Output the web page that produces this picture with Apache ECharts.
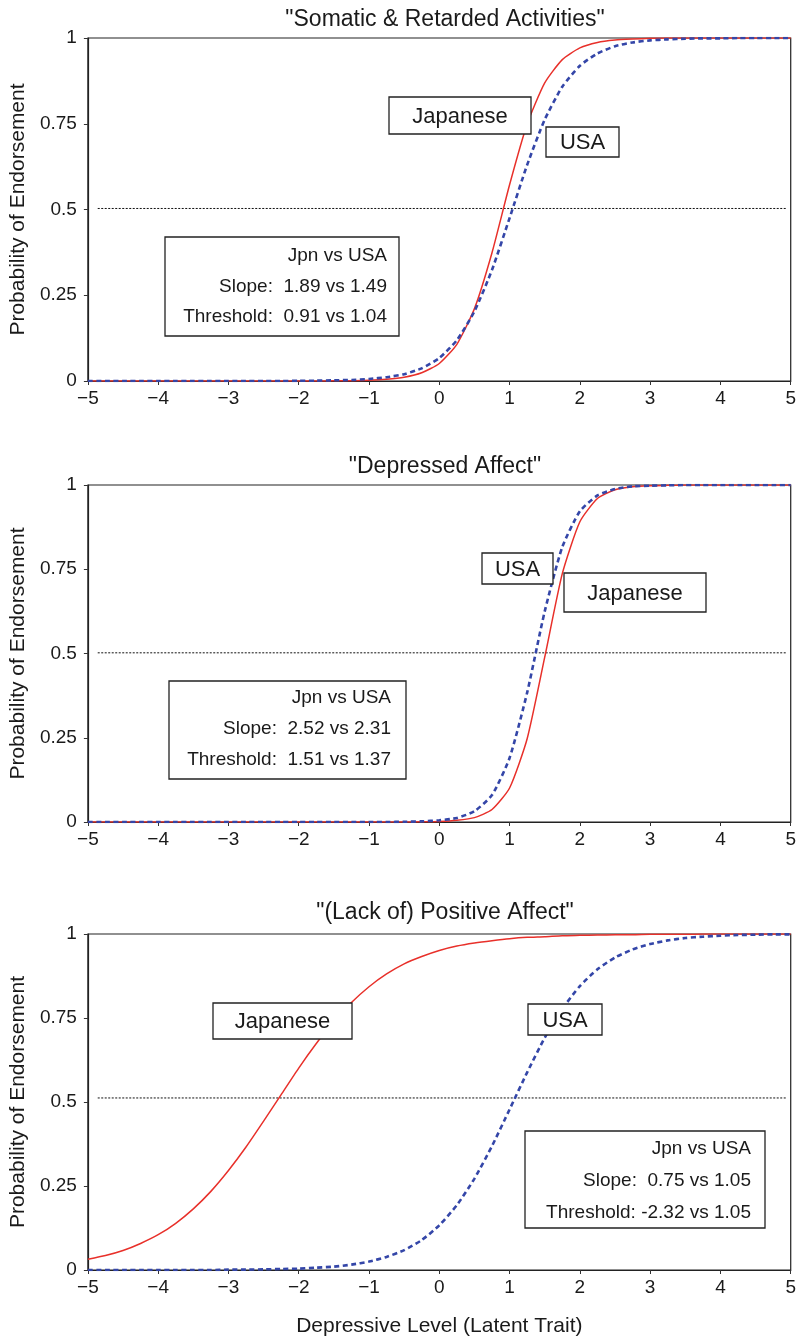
<!DOCTYPE html>
<html>
<head>
<meta charset="utf-8">
<script src="https://cdn.jsdelivr.net/npm/echarts@6/dist/echarts.min.js"></script>
<style>
html, body { margin: 0; padding: 0; background: #fff; }
#main { width: 799px; height: 1340px; }
</style>
</head>
<body>
<div id="main"></div>
<script>
// latent trait positions (x) shared by every curve
var X = [-5, -4.75, -4.5, -4.25, -4, -3.75, -3.5, -3.25, -3, -2.75, -2.5, -2.25, -2, -1.75, -1.5, -1.25,
         -1, -0.75, -0.5, -0.25, 0, 0.25, 0.5, 0.75, 1, 1.25, 1.5, 1.75, 2, 2.25, 2.5, 2.75,
         3, 3.25, 3.5, 3.75, 4, 4.25, 4.5, 4.75, 5];

var TITLES = ['"Somatic & Retarded Activities"', '"Depressed Affect"', '"(Lack of) Positive Affect"'];

// probability of endorsement
var JPN_SOMATIC = [0, 0, 0, 0, 0, 0, 0, 0, 0, 0, 0, 0, 0, 0, 0.0004, 0.001,
                   0.002, 0.005, 0.011, 0.024, 0.051, 0.107, 0.211, 0.374, 0.572, 0.749, 0.869, 0.937, 0.971, 0.987, 0.994, 0.997,
                   0.999, 1, 1, 1, 1, 1, 1, 1, 1];
var USA_SOMATIC = [0, 0, 0, 0, 0, 0, 0, 0, 0, 0, 0, 0, 0.0005, 0.001, 0.002, 0.003,
                   0.006, 0.011, 0.020, 0.037, 0.067, 0.119, 0.203, 0.324, 0.475, 0.630, 0.762, 0.858, 0.919, 0.955, 0.976, 0.987,
                   0.993, 0.996, 0.998, 0.999, 0.999, 1, 1, 1, 1];

var JPN_DEPRESSED = [0, 0, 0, 0, 0, 0, 0, 0, 0, 0, 0, 0, 0, 0, 0, 0,
                     0, 0, 0, 0.0005, 0.0015, 0.005, 0.013, 0.037, 0.101, 0.247, 0.489, 0.737, 0.891, 0.960, 0.986, 0.995,
                     0.998, 0.999, 1, 1, 1, 1, 1, 1, 1];
var USA_DEPRESSED = [0, 0, 0, 0, 0, 0, 0, 0, 0, 0, 0, 0, 0, 0, 0, 0,
                     0, 0, 0.0006, 0.002, 0.005, 0.012, 0.032, 0.080, 0.190, 0.384, 0.625, 0.816, 0.922, 0.969, 0.988, 0.996,
                     0.998, 0.999, 1, 1, 1, 1, 1, 1, 1];

var JPN_POSITIVE = [0.032, 0.043, 0.058, 0.079, 0.105, 0.139, 0.182, 0.234, 0.296, 0.366, 0.443, 0.522, 0.601, 0.674, 0.740, 0.796,
                    0.843, 0.881, 0.911, 0.933, 0.951, 0.964, 0.973, 0.980, 0.986, 0.990, 0.992, 0.995, 0.996, 0.997, 0.998, 0.998,
                    0.999, 0.999, 0.999, 1, 1, 1, 1, 1, 1];
var USA_POSITIVE = [0, 0, 0, 0, 0, 0, 0, 0, 0.001, 0.001, 0.002, 0.003, 0.004, 0.007, 0.010, 0.016,
                    0.025, 0.039, 0.059, 0.089, 0.133, 0.193, 0.272, 0.369, 0.478, 0.588, 0.691, 0.777, 0.845, 0.895, 0.930, 0.954,
                    0.970, 0.981, 0.988, 0.992, 0.995, 0.997, 0.998, 0.999, 0.999];

var JPN = [JPN_SOMATIC, JPN_DEPRESSED, JPN_POSITIVE];
var USA = [USA_SOMATIC, USA_DEPRESSED, USA_POSITIVE];

// dotted 0.5 guide
var REF_X = [-4.86, 4.95];
var REF_LEVEL = [0.503, 0.502, 0.512];

var STATS = [
    ['Jpn vs USA', 'Slope:  1.89 vs 1.49', 'Threshold:  0.91 vs 1.04'],
    ['Jpn vs USA', 'Slope:  2.52 vs 2.31', 'Threshold:  1.51 vs 1.37'],
    ['Jpn vs USA', 'Slope:  0.75 vs 1.05', 'Threshold: -2.32 vs 1.05']
];

// ---- layout ----
var FONT = 'Liberation Sans, Arial, Helvetica, sans-serif';
var RED = '#e8302a';
var BLUE = '#3446a8';
var GRID_TOP = [38, 485, 934];
var GRID_H = [343, 337, 336];
var TITLE_TOP = [3, 450, 896];
// label boxes [text, x, y, w, h]
var NAME_BOXES = [
    ['Japanese', 389, 97, 142, 37], ['USA', 546, 127, 73, 30],
    ['USA', 482, 553, 71, 31], ['Japanese', 564, 573, 142, 39],
    ['Japanese', 213, 1003, 139, 36], ['USA', 528, 1004, 74, 31]
];
// stats boxes [x, y, w, h, textRight, firstLineY, lineStep]
var STAT_BOXES = [
    [165, 237, 234, 99, 387, 256, 30.5],
    [169, 681, 237, 98, 391, 698, 31],
    [525, 1131, 240, 97, 751, 1149, 32]
];

function pairs(xs, ys) {
    return xs.map(function (x, i) { return [x, ys[i]]; });
}

var myChart = echarts.init(document.getElementById('main'), null, { renderer: 'canvas' });

var grids = [], xAxes = [], yAxes = [], series = [], titles = [], graphics = [];

for (var i = 0; i < 3; i++) {
    titles.push({
        text: TITLES[i],
        left: 440,
        top: TITLE_TOP[i],
        textAlign: 'center',
        textStyle: { fontFamily: FONT, fontSize: 23, fontWeight: 'normal', color: '#1a1a1a' }
    });
    grids.push({
        left: 87, right: 7, top: GRID_TOP[i], height: GRID_H[i],
        show: true, borderColor: '#222', borderWidth: 1.2
    });
    xAxes.push({
        gridIndex: i,
        type: 'value',
        min: -5, max: 5, interval: 1,
        name: i === 2 ? 'Depressive Level (Latent Trait)' : '',
        nameLocation: 'middle',
        nameGap: 46,
        nameTextStyle: { fontFamily: FONT, fontSize: 21, color: '#1a1a1a' },
        axisLine: { show: true, onZero: false, lineStyle: { color: '#222', width: 1.2 } },
        axisTick: { show: true, inside: false, length: 4, lineStyle: { color: '#333' } },
        axisLabel: {
            margin: 8, fontFamily: FONT, fontSize: 19, color: '#1a1a1a',
            formatter: function (v) { return String(v).replace('-', '\u2212'); }
        },
        splitLine: { show: false }
    });
    yAxes.push({
        gridIndex: i,
        type: 'value',
        min: 0, max: 1, interval: 0.25,
        name: 'Probability of Endorsement',
        nameLocation: 'middle',
        nameRotate: 90,
        nameGap: 57,
        nameTextStyle: { fontFamily: FONT, fontSize: 21, color: '#1a1a1a' },
        axisLine: { show: true, onZero: false, lineStyle: { color: '#222', width: 1.2 } },
        axisTick: { show: true, inside: false, length: 4, lineStyle: { color: '#333' } },
        axisLabel: { margin: 11, fontFamily: FONT, fontSize: 19, color: '#1a1a1a' },
        splitLine: { show: false }
    });
    series.push({
        name: 'Japanese',
        type: 'line',
        xAxisIndex: i, yAxisIndex: i,
        data: pairs(X, JPN[i]),
        showSymbol: false,
        smooth: 0.2,
        lineStyle: { color: RED, width: 1.5 },
        z: 2
    });
    series.push({
        name: 'USA',
        type: 'line',
        xAxisIndex: i, yAxisIndex: i,
        data: pairs(X, USA[i]),
        showSymbol: false,
        smooth: 0.2,
        lineStyle: { color: BLUE, width: 2.6, type: [5, 3.5] },
        z: 3
    });
    series.push({
        name: 'ref',
        type: 'line',
        xAxisIndex: i, yAxisIndex: i,
        data: pairs(REF_X, [REF_LEVEL[i], REF_LEVEL[i]]),
        showSymbol: false,
        silent: true,
        lineStyle: { color: '#111', width: 1, type: [2, 1.5] },
        z: 1
    });

    var sb = STAT_BOXES[i];
    graphics.push({
        type: 'rect', z: 100,
        shape: { x: sb[0], y: sb[1], width: sb[2], height: sb[3] },
        style: { fill: '#fff', stroke: '#222', lineWidth: 1.3 }
    });
    for (var k = 0; k < 3; k++) {
        graphics.push({
            type: 'text', z: 101,
            style: {
                text: STATS[i][k], x: sb[4], y: sb[5] + k * sb[6],
                align: 'right', verticalAlign: 'middle',
                textAlign: 'right', textVerticalAlign: 'middle',
                font: '19px ' + FONT, fill: '#1a1a1a'
            }
        });
    }
}

NAME_BOXES.forEach(function (b) {
    graphics.push({
        type: 'rect', z: 100,
        shape: { x: b[1], y: b[2], width: b[3], height: b[4] },
        style: { fill: '#fff', stroke: '#222', lineWidth: 1.3 }
    });
    graphics.push({
        type: 'text', z: 101,
        style: {
            text: b[0], x: b[1] + b[3] / 2, y: b[2] + b[4] / 2 + 1,
            align: 'center', verticalAlign: 'middle',
            textAlign: 'center', textVerticalAlign: 'middle',
            font: '22px ' + FONT, fill: '#1a1a1a'
        }
    });
});

var option = {
    backgroundColor: '#fff',
    animation: false,
    title: titles,
    grid: grids,
    xAxis: xAxes,
    yAxis: yAxes,
    series: series,
    graphic: graphics
};

myChart.setOption(option, true);
</script>
</body>
</html>
